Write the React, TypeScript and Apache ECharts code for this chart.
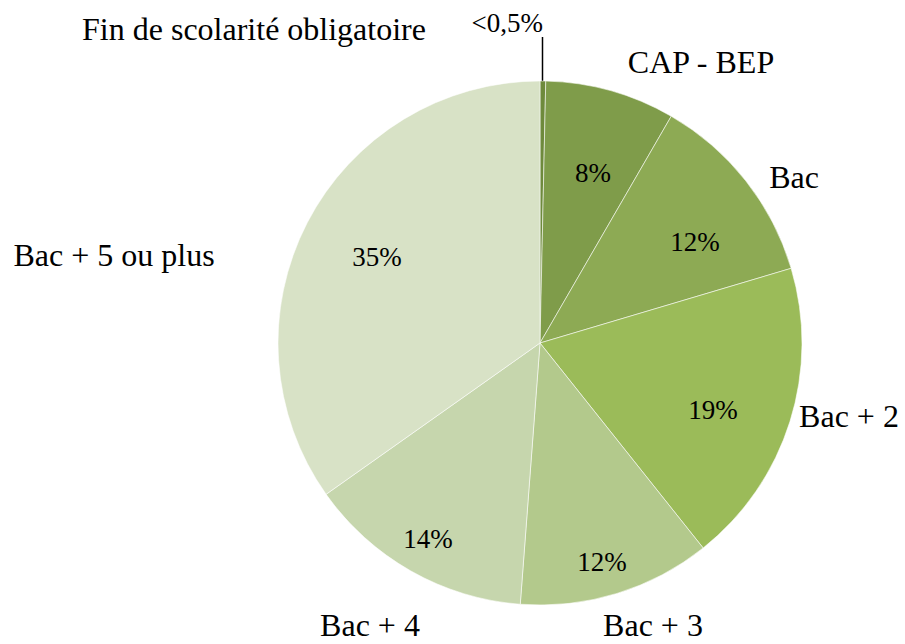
import React, { useEffect, useRef } from "react";
import * as echarts from "echarts";

const categories = [
  "Fin de scolarité obligatoire",
  "CAP - BEP",
  "Bac",
  "Bac + 2",
  "Bac + 3",
  "Bac + 4",
  "Bac + 5 ou plus",
];
const values = [0.35, 8.0, 12.05, 18.9, 11.9, 14.0, 34.8];
const colors = ["#6E8A3C", "#7F9C4A", "#8DAA54", "#9BBB59", "#B3C98C", "#C6D6AD", "#D8E2C6"];

// label anchor positions (layout only)
const namePos: [number, number][] = [
  [254, 29],
  [701, 62],
  [794, 177],
  [849, 416],
  [653, 625],
  [370, 625],
  [114, 255],
];
const pctPos: [number, number][] = [
  [543, 23],
  [593, 173],
  [695, 242],
  [713, 410],
  [602, 562],
  [428, 539],
  [377, 257],
];

const FONT = "Liberation Serif";

function pctText(v: number) {
  return v < 0.5 ? "<0,5%" : Math.round(v) + "%";
}

export default function App() {
  const ref = useRef<HTMLDivElement>(null);
  useEffect(() => {
    if (!ref.current) return;
    const chart = echarts.init(ref.current, undefined, { renderer: "svg" });
    const center = [540, 343];
    const R = 262;
    chart.setOption({
      animation: false,
      backgroundColor: "#ffffff",
      textStyle: { fontFamily: FONT },
      series: [
        {
          type: "pie",
          center,
          radius: R,
          startAngle: 90,
          clockwise: true,
          avoidLabelOverlap: false,
          silent: true,
          data: categories.map((c, i) => ({
            name: c,
            value: values[i],
            itemStyle: { color: colors[i] },
          })),
          itemStyle: { borderColor: "rgba(255,255,255,0.55)", borderWidth: 1 },
          label: {
            show: true,
            position: "outside",
            formatter: "{b}",
            color: "#000",
            fontFamily: FONT,
            fontSize: 32,
          },
          labelLine: { show: false },
          labelLayout: (p: any) => {
            const pos = namePos[p.dataIndex];
            return { x: pos[0], y: pos[1], align: "center", verticalAlign: "middle" };
          },
        },
        {
          type: "pie",
          center,
          radius: [105, R],
          startAngle: 90,
          clockwise: true,
          avoidLabelOverlap: false,
          silent: true,
          data: categories.map((c, i) => ({
            name: c,
            value: values[i],
            itemStyle: { color: "rgba(0,0,0,0)", borderWidth: 0 },
            label:
              i === 0
                ? { position: "outside", fontFamily: FONT }
                : { position: "inside", fontFamily: FONT },
            labelLine:
              i === 0
                ? { show: true, length: 20, length2: 0, lineStyle: { color: "#000", width: 1.5 } }
                : { show: false },
          })),
          label: {
            show: true,
            formatter: (p: any) => pctText(p.value),
            color: "#000",
            fontFamily: FONT,
            fontSize: 27,
          },
          labelLayout: (p: any) => {
            const pos = pctPos[p.dataIndex];
            if (p.dataIndex === 0) {
              return {
                x: pos[0],
                y: pos[1],
                align: "right",
                verticalAlign: "middle",
                labelLinePoints: [
                  [542.5, 37],
                  [542.5, 81],
                ],
              };
            }
            return { x: pos[0], y: pos[1], align: "center", verticalAlign: "middle" };
          },
        },
      ],
    });
    return () => chart.dispose();
  }, []);
  return (
    <div
      ref={ref}
      style={{ position: "absolute", left: 0, top: 0, width: 905, height: 644 }}
    />
  );
}
